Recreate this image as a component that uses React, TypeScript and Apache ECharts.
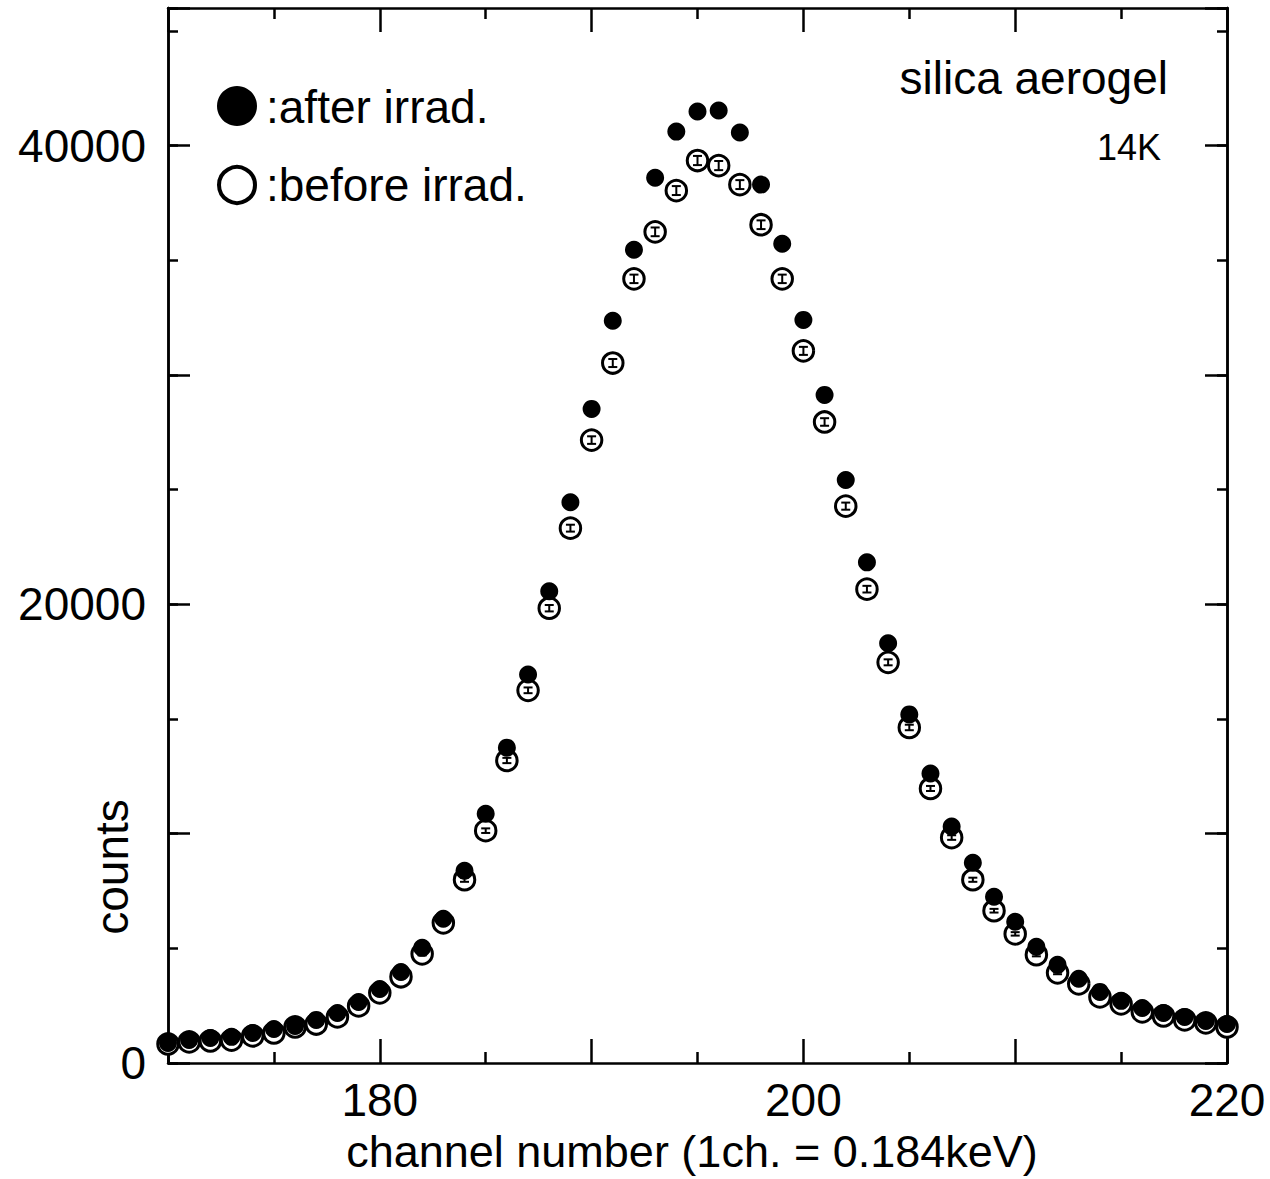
import React, { useEffect, useRef } from "react";
import * as echarts from "echarts";

const channels = [
  170, 171, 172, 173, 174, 175, 176, 177, 178, 179,
  180, 181, 182, 183, 184, 185, 186, 187, 188, 189,
  190, 191, 192, 193, 194, 195, 196, 197, 198, 199,
  200, 201, 202, 203, 204, 205, 206, 207, 208, 209,
  210, 211, 212, 213, 214, 215, 216, 217, 218, 219,
  220,
];

const afterIrrad = [
  870, 1000, 1090, 1140, 1310, 1485, 1615, 1880, 2180, 2660,
  3230, 3970, 5020, 6290, 8380, 10870, 13750, 16940, 20570, 24450,
  28520, 32360, 35460, 38600, 40610, 41490, 41530, 40570, 38300, 35720,
  32400, 29130, 25420, 21830, 18300, 15200, 12620, 10310, 8730, 7250,
  6160, 5070, 4280, 3670, 3100, 2710, 2400, 2180, 2010, 1830,
  1700,
];

const beforeIrrad = [
  830, 920, 960, 1000, 1180, 1310, 1570, 1700, 2010, 2490,
  3060, 3760, 4760, 6110, 7990, 10130, 13190, 16250, 19830, 23320,
  27160, 30520, 34190, 36240, 38040, 39350, 39130, 38300, 36550, 34190,
  31050, 27950, 24280, 20660, 17470, 14630, 11970, 9830, 7990, 6640,
  5630, 4720, 3930, 3450, 2880, 2580, 2230, 2050, 1880, 1750,
  1570,
];

const beforeErr = [
  30, 30, 30, 30, 35, 35, 40, 40, 45, 50,
  55, 60, 70, 80, 90, 100, 115, 125, 140, 150,
  165, 175, 185, 190, 195, 200, 200, 195, 190, 185,
  175, 165, 155, 145, 130, 120, 110, 100, 90, 80,
  75, 70, 60, 60, 55, 50, 45, 45, 45, 40,
  40,
];

const xTickLabels = [180, 200, 220];
const yTickLabels = [0, 20000, 40000];

const FONT = '"Liberation Sans", Arial, Helvetica, sans-serif';
const AXIS_W = 2.5;

function makeX(position: "bottom" | "top", showLabels: boolean) {
  return {
    type: "value",
    min: 170,
    max: 220,
    interval: 10,
    position,
    axisLine: { show: true, onZero: false, lineStyle: { color: "#000", width: AXIS_W } },
    axisTick: { show: true, inside: true, length: 24, lineStyle: { color: "#000", width: AXIS_W } },
    minorTick: { show: true, splitNumber: 2, length: 11, lineStyle: { color: "#000", width: AXIS_W } },
    splitLine: { show: false },
    minorSplitLine: { show: false },
    axisLabel: {
      show: showLabels,
      formatter: (v: number) => (xTickLabels.includes(v) ? String(v) : ""),
      fontSize: 46,
      fontFamily: FONT,
      color: "#000",
      margin: 14,
    },
  };
}

function makeY(position: "left" | "right", interval: number, len: number, showLabels: boolean) {
  return {
    type: "value",
    min: 0,
    max: 46000,
    interval,
    position,
    axisLine: { show: true, onZero: false, lineStyle: { color: "#000", width: AXIS_W } },
    axisTick: { show: true, inside: true, length: len, lineStyle: { color: "#000", width: AXIS_W } },
    splitLine: { show: false },
    axisLabel: {
      show: showLabels,
      formatter: (v: number) => (yTickLabels.includes(v) ? String(v) : ""),
      fontSize: 46,
      fontFamily: FONT,
      color: "#000",
      margin: 22,
      padding: [14, 0, 0, 0],
    },
  };
}

export default function App() {
  const ref = useRef<HTMLDivElement>(null);

  useEffect(() => {
    if (!ref.current) return;
    const chart = echarts.init(ref.current, null, { renderer: "svg" });

    const beforeData = channels.map((c, i) => [c, beforeIrrad[i]]);
    const afterData = channels.map((c, i) => [c, afterIrrad[i]]);
    const errData = channels.map((c, i) => [c, beforeIrrad[i], beforeErr[i]]);

    const option: any = {
      animation: false,
      backgroundColor: "#fff",
      grid: { left: 168, right: 43, top: 8, bottom: 116, containLabel: false },
      xAxis: [makeX("bottom", true), makeX("top", false)],
      yAxis: [
        makeY("left", 10000, 22, true),
        makeY("left", 5000, 10, false),
        makeY("right", 10000, 22, false),
        makeY("right", 5000, 10, false),
      ],
      series: [
        {
          name: "before irrad.",
          type: "scatter",
          xAxisIndex: 0,
          yAxisIndex: 0,
          data: beforeData,
          symbol: "circle",
          symbolSize: 20.5,
          itemStyle: { color: "#fff", borderColor: "#000", borderWidth: 3, opacity: 1 },
          z: 2,
        },
        {
          name: "error",
          type: "custom",
          xAxisIndex: 0,
          yAxisIndex: 0,
          data: errData,
          encode: { x: 0, y: 1 },
          z: 3,
          renderItem: (params: any, api: any) => {
            const x = api.value(0);
            const y = api.value(1);
            const e = api.value(2);
            const top = api.coord([x, y + e]);
            const bot = api.coord([x, y - e]);
            const hw = 4.5;
            const st = { stroke: "#000", lineWidth: 2 };
            return {
              type: "group",
              children: [
                { type: "line", shape: { x1: top[0], y1: top[1], x2: bot[0], y2: bot[1] }, style: st },
                { type: "line", shape: { x1: top[0] - hw, y1: top[1], x2: top[0] + hw, y2: top[1] }, style: st },
                { type: "line", shape: { x1: bot[0] - hw, y1: bot[1], x2: bot[0] + hw, y2: bot[1] }, style: st },
              ],
            };
          },
        },
        {
          name: "after irrad.",
          type: "scatter",
          xAxisIndex: 0,
          yAxisIndex: 0,
          data: afterData,
          symbol: "circle",
          symbolSize: 18,
          itemStyle: { color: "#000", opacity: 1 },
          z: 4,
        },
      ],
      graphic: [
        { type: "circle", shape: { cx: 237, cy: 106, r: 20 }, style: { fill: "#000" } },
        { type: "circle", shape: { cx: 237, cy: 185, r: 18 }, style: { fill: "#fff", stroke: "#000", lineWidth: 4 } },
        {
          type: "text",
          x: 266,
          y: 107,
          style: { text: ":after irrad.", fontSize: 46, fontFamily: FONT, fill: "#000", align: "left", verticalAlign: "middle" },
        },
        {
          type: "text",
          x: 266,
          y: 185,
          style: { text: ":before irrad.", fontSize: 46, fontFamily: FONT, fill: "#000", align: "left", verticalAlign: "middle" },
        },
        {
          type: "text",
          x: 1168,
          y: 78,
          style: { text: "silica aerogel", fontSize: 46, fontFamily: FONT, fill: "#000", align: "right", verticalAlign: "middle" },
        },
        {
          type: "text",
          x: 1161,
          y: 147,
          style: { text: "14K", fontSize: 36, fontFamily: FONT, fill: "#000", align: "right", verticalAlign: "middle" },
        },
        {
          type: "text",
          x: 112,
          y: 867,
          rotation: Math.PI / 2,
          style: { text: "counts", fontSize: 46, fontFamily: FONT, fill: "#000", align: "center", verticalAlign: "middle" },
        },
        {
          type: "text",
          x: 692,
          y: 1151,
          style: {
            text: "channel number (1ch. = 0.184keV)",
            fontSize: 45,
            fontFamily: FONT,
            fill: "#000",
            align: "center",
            verticalAlign: "middle",
          },
        },
      ],
    };

    chart.setOption(option);
    return () => chart.dispose();
  }, []);

  return (
    <div
      ref={ref}
      style={{ position: "fixed", left: 0, top: 0, width: 1270, height: 1179, background: "#fff" }}
    />
  );
}
